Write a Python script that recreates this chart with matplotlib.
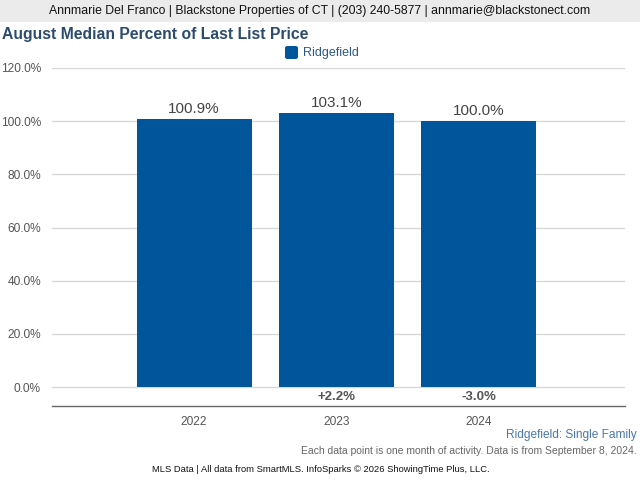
import matplotlib
matplotlib.use("Agg")
import matplotlib.pyplot as plt
from matplotlib.patches import Rectangle, FancyBboxPatch

plt.rcParams['font.family'] = ['Liberation Sans', 'DejaVu Sans']

years = ["2022", "2023", "2024"]
values = [100.9, 103.1, 100.0]
changes = ["", "+2.2%", "-3.0%"]
yticks = [0, 20, 40, 60, 80, 100, 120]

W, H = 640, 480
fig = plt.figure(figsize=(6.4, 4.8), dpi=100)
fig.patch.set_facecolor("white")

# header band
fig.patches.append(Rectangle((0, 1 - 22 / H), 1, 22 / H, transform=fig.transFigure,
                             facecolor="#ebebeb", edgecolor="none", zorder=0))
fig.text(0.5, 1 - 11 / H, "Annmarie Del Franco | Blackstone Properties of CT | (203) 240-5877 | annmarie@blackstonect.com",
         ha="center", va="center", fontsize=8.8, color="#111111")
fig.text(2 / W, 1 - 34 / H, "August Median Percent of Last List Price", ha="left", va="center",
         fontsize=11.3, fontweight="bold", color="#2b4c6f")

# legend
fig.patches.append(FancyBboxPatch((285 / W, 1 - 59 / H), 13 / W, 13 / H, transform=fig.transFigure,
                                  boxstyle="round,pad=0,rounding_size=0.004",
                                  facecolor="#00559b", edgecolor="none"))
fig.text(303 / W, 1 - 53 / H, "Ridgefield", ha="left", va="center", fontsize=9, color="#2e5a87")

ax = fig.add_axes([52 / W, 1 - 406 / H, (625 - 52) / W, (406 - 68) / H])
x = list(range(len(years)))
ax.bar(x, values, width=0.81, color="#00559b", zorder=3)
ax.set_xlim(-1.0, 3.03)
ax.set_ylim(-7.1, 120)
ax.set_yticks(yticks)
ax.set_yticklabels([f"{v:.1f}%" for v in yticks])
ax.set_xticks(x)
ax.set_xticklabels(years)
ax.tick_params(axis="both", length=0, labelsize=8.6, colors="#555555")
ax.tick_params(axis="x", pad=7)
ax.tick_params(axis="y", pad=8)
ax.grid(axis="y", color="#d8d8d8", linewidth=1, zorder=0)
for s in ["top", "right", "left"]:
    ax.spines[s].set_visible(False)
ax.spines["bottom"].set_color("#666666")
ax.spines["bottom"].set_linewidth(1)

for xi, v, c in zip(x, values, changes):
    ax.text(xi, v + 1.2, f"{v:.1f}%", ha="center", va="bottom", fontsize=11, color="#444444")
    if c:
        ax.text(xi, -3.7, c, ha="center", va="center", fontsize=9.5, fontweight="bold", color="#555555")

fig.text(637 / W, 1 - 435 / H, "Ridgefield: Single Family", ha="right", va="center", fontsize=8.6, color="#4a78a8")
fig.text(637 / W, 1 - 451 / H, "Each data point is one month of activity. Data is from September 8, 2024.",
         ha="right", va="center", fontsize=7.5, color="#666666")
fig.text(152 / W, 1 - 469 / H, "MLS Data | All data from SmartMLS. InfoSparks © 2026 ShowingTime Plus, LLC.",
         ha="left", va="center", fontsize=6.75, color="#111111")

fig.savefig("out.png", dpi=100)
